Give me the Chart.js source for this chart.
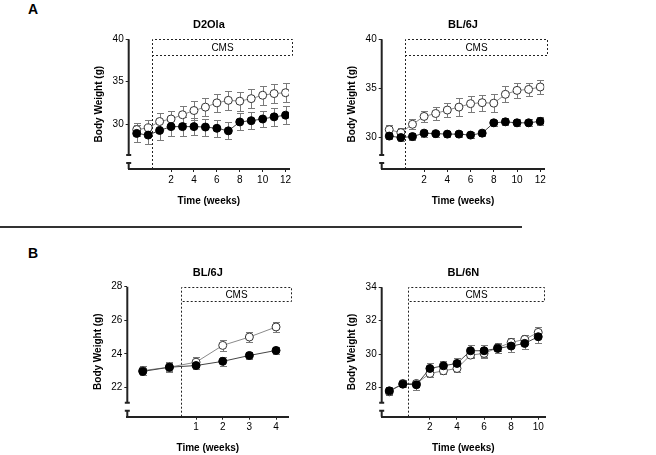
<!DOCTYPE html>
<html>
<head>
<meta charset="utf-8">
<script src="https://cdn.jsdelivr.net/npm/chart.js@4.4.0/dist/chart.umd.min.js"></script>
<style>
  body { margin: 0; background: #fff; }
  #wrap { position: relative; width: 656px; height: 455px; font-family: "Liberation Sans", Arial, sans-serif; }
  #wrap canvas { position: absolute; }
  .panel-label { position: absolute; font-weight: bold; font-size: 14px; line-height: 14px; color: #000; }
  .divider { position: absolute; left: 0; top: 226px; width: 522px; height: 2px; background: #333; }
</style>
</head>
<body>
<div id="wrap">
  <div class="panel-label" style="left:28px;top:2px">A</div>
  <div class="panel-label" style="left:28px;top:246px">B</div>
  <div class="divider"></div>
  <canvas id="chartA1" width="328" height="227" style="left:0;top:0"></canvas>
  <canvas id="chartA2" width="328" height="227" style="left:328px;top:0"></canvas>
  <canvas id="chartB1" width="328" height="226" style="left:0;top:229px"></canvas>
  <canvas id="chartB2" width="328" height="226" style="left:328px;top:229px"></canvas>
</div>
<script>
// x values (weeks)
const weeksA = [-1, 0, 1, 2, 3, 4, 5, 6, 7, 8, 9, 10, 11, 12];
const weeksB1 = [-1, 0, 1, 2, 3, 4];
const weeksB2 = [-1, 0, 1, 2, 3, 4, 5, 6, 7, 8, 9, 10];

// A - D2Ola
const d2olaControl = [29.35, 29.55, 30.3, 30.6, 31.1, 31.6, 32.0, 32.5, 32.8, 32.7, 33.0, 33.4, 33.6, 33.7];
const d2olaControlSem = [0.8, 0.9, 1.0, 1.0, 1.0, 1.1, 1.1, 1.1, 1.1, 1.1, 1.1, 1.1, 1.1, 1.1];
const d2olaCms = [28.9, 28.7, 29.25, 29.7, 29.7, 29.7, 29.65, 29.5, 29.2, 30.25, 30.4, 30.6, 30.85, 31.05];
const d2olaCmsSem = [1.0, 1.1, 1.1, 1.1, 1.1, 1.0, 1.0, 1.0, 1.0, 1.0, 1.0, 1.0, 1.1, 1.1];

// A - BL/6J
const bl6jAControl = [30.8, 30.5, 31.35, 32.15, 32.45, 32.8, 33.1, 33.45, 33.55, 33.5, 34.4, 34.8, 34.9, 35.15];
const bl6jAControlSem = [0.5, 0.45, 0.5, 0.6, 0.7, 0.7, 0.9, 0.8, 0.8, 0.9, 0.8, 0.8, 0.7, 0.7];
const bl6jACms = [30.15, 30.0, 30.1, 30.45, 30.4, 30.35, 30.35, 30.25, 30.45, 31.5, 31.6, 31.5, 31.5, 31.65];
const bl6jACmsSem = [0.3, 0.35, 0.35, 0.35, 0.3, 0.3, 0.3, 0.3, 0.3, 0.3, 0.35, 0.35, 0.35, 0.4];

// B - BL/6J
const bl6jBControl = [23.0, 23.2, 23.5, 24.5, 25.0, 25.6];
const bl6jBControlSem = [0.25, 0.3, 0.3, 0.35, 0.3, 0.3];
const bl6jBCms = [22.95, 23.2, 23.3, 23.55, 23.9, 24.2];
const bl6jBCmsSem = [0.2, 0.25, 0.2, 0.25, 0.2, 0.2];

// B - BL/6N
const bl6nControl = [27.74, 28.24, 28.24, 28.84, 29.0, 29.14, 29.94, 30.04, 30.38, 30.7, 30.88, 31.3];
const bl6nControlSem = [0.2, 0.2, 0.2, 0.2, 0.2, 0.2, 0.2, 0.25, 0.2, 0.25, 0.25, 0.3];
const bl6nCms = [27.8, 28.2, 28.16, 29.14, 29.3, 29.44, 30.2, 30.2, 30.34, 30.48, 30.64, 31.04];
const bl6nCmsSem = [0.2, 0.2, 0.3, 0.3, 0.3, 0.3, 0.35, 0.35, 0.3, 0.35, 0.35, 0.35];

// tick labels
const xTicksA = [2, 4, 6, 8, 10, 12];
const xTicksB1 = [1, 2, 3, 4];
const xTicksB2 = [2, 4, 6, 8, 10];
const yTicksA = [30, 35, 40];
const yTicksB1 = [22, 24, 26, 28];
const yTicksB2 = [28, 30, 32, 34];

Chart.defaults.font.family = '"Liberation Sans", Arial, sans-serif';
Chart.defaults.color = '#000';

function toPoints(xs, ys) {
  return xs.map((x, i) => ({ x: x, y: ys[i] }));
}

// mean +/- SEM bars, drawn under the lines
const errorBars = {
  id: 'errorBars',
  beforeDatasetsDraw(chart) {
    const ctx = chart.ctx;
    const yScale = chart.scales.y;
    chart.data.datasets.forEach((ds, i) => {
      const meta = chart.getDatasetMeta(i);
      ctx.save();
      ctx.strokeStyle = '#7a7a7a';
      ctx.lineWidth = 1;
      meta.data.forEach((pt, j) => {
        const v = ds.data[j].y;
        const e = ds.sem[j];
        const top = Math.round(yScale.getPixelForValue(v + e)) + 0.5;
        const bot = Math.round(yScale.getPixelForValue(v - e)) + 0.5;
        const x = Math.round(pt.x) + 0.5;
        ctx.beginPath();
        ctx.moveTo(x, top); ctx.lineTo(x, bot);
        ctx.moveTo(x - 3.5, top); ctx.lineTo(x + 3.5, top);
        ctx.moveTo(x - 3.5, bot); ctx.lineTo(x + 3.5, bot);
        ctx.stroke();
      });
      ctx.restore();
    });
  }
};

// dashed CMS box + start line
const cmsBox = {
  id: 'cmsBox',
  afterDraw(chart, args, opts) {
    const { ctx, chartArea } = chart;
    const xs = chart.scales.x, ys = chart.scales.y;
    const left = Math.round(xs.getPixelForValue(opts.start)) + 0.5;
    const right = Math.round(xs.getPixelForValue(opts.end)) + 0.5;
    const top = Math.round(ys.getPixelForValue(ys.max)) + 0.5;
    const bottom = Math.round(ys.getPixelForValue(opts.bottom)) + 0.5;
    ctx.save();
    ctx.strokeStyle = '#222';
    ctx.lineWidth = 1;
    ctx.setLineDash([2, 2]);
    ctx.beginPath();
    ctx.moveTo(left, chartArea.bottom);
    ctx.lineTo(left, top);
    ctx.lineTo(right, top);
    ctx.lineTo(right, bottom);
    ctx.lineTo(left, bottom);
    ctx.stroke();
    ctx.setLineDash([]);
    ctx.fillStyle = '#000';
    ctx.font = '10px "Liberation Sans", Arial, sans-serif';
    ctx.textAlign = 'center';
    ctx.textBaseline = 'middle';
    ctx.fillText('CMS', (left + right) / 2, (top + bottom) / 2 + 0.5);
    ctx.restore();
  }
};

// y axis with a break near the bottom (Prism style)
const brokenAxis = {
  id: 'brokenAxis',
  afterDraw(chart) {
    const { ctx, chartArea } = chart;
    const x = chartArea.left;
    const b = chartArea.bottom;
    ctx.save();
    ctx.strokeStyle = '#222';
    ctx.lineWidth = 2;
    ctx.beginPath();
    ctx.moveTo(x, chartArea.top); ctx.lineTo(x, b - 14);
    ctx.moveTo(x - 2.5, b - 14); ctx.lineTo(x + 2.5, b - 14);
    ctx.moveTo(x - 2.5, b - 6); ctx.lineTo(x + 2.5, b - 6);
    ctx.moveTo(x, b - 6); ctx.lineTo(x, b);
    ctx.stroke();
    ctx.restore();
  }
};

function buildPanel(id, p) {
  const canvas = document.getElementById(id);
  const W = canvas.width, H = canvas.height;
  const axisW = 40, axisH = 40;
  const titleLine = 11 * 1.2;

  return new Chart(canvas, {
    type: 'line',
    data: {
      datasets: [{
        label: 'CMS',
        data: toPoints(p.weeks, p.cms),
        sem: p.cmsSem,
        borderColor: '#444',
        borderWidth: 1,
        pointRadius: 4,
        pointBackgroundColor: '#000',
        pointBorderColor: '#000',
        pointBorderWidth: 1
      }, {
        label: 'Control',
        data: toPoints(p.weeks, p.control),
        sem: p.controlSem,
        borderColor: '#8a8a8a',
        borderWidth: 1,
        pointRadius: 4,
        pointBackgroundColor: '#fff',
        pointBorderColor: '#333',
        pointBorderWidth: 1
      }]
    },
    options: {
      responsive: false,
      animation: false,
      layout: {
        padding: {
          left: p.area.l - axisW,
          right: W - p.area.r,
          top: 0,
          bottom: H - p.area.b - axisH
        }
      },
      plugins: {
        legend: { display: false },
        tooltip: { enabled: false },
        title: {
          display: true,
          text: p.title,
          fullSize: false,
          color: '#000',
          font: { size: 11, weight: 'bold' },
          padding: { top: p.titleY - titleLine / 2, bottom: p.area.t - p.titleY - titleLine / 2 }
        },
        cmsBox: { start: p.cmsStart, end: p.cmsEnd, bottom: p.cmsBottom }
      },
      scales: {
        x: {
          type: 'linear',
          min: p.xMin,
          max: p.xMax,
          afterBuildTicks: s => { s.ticks = p.xTicks.map(v => ({ value: v })); },
          afterFit: s => { s.height = axisH; },
          grid: { display: true, drawOnChartArea: false, drawTicks: true, tickLength: 3, color: '#222' },
          border: { display: true, color: '#222', width: 2 },
          ticks: { padding: 2, autoSkip: false, maxRotation: 0, font: { size: 10 } },
          title: { display: true, text: 'Time (weeks)', font: { size: 10, weight: 'bold' }, padding: { top: 0, bottom: 2 } }
        },
        y: {
          min: p.yMin,
          max: p.yMax,
          afterBuildTicks: s => { s.ticks = p.yTicks.map(v => ({ value: v })); },
          afterFit: s => { s.width = axisW; },
          grid: { display: true, drawOnChartArea: false, drawTicks: true, tickLength: 3, color: '#222' },
          border: { display: false },
          ticks: { padding: 2, autoSkip: false, font: { size: 10 } },
          title: { display: true, text: 'Body Weight (g)', font: { size: 10, weight: 'bold' }, padding: { top: 4.5, bottom: 0 } }
        }
      }
    },
    plugins: [errorBars, cmsBox, brokenAxis]
  });
}

buildPanel('chartA1', {
  title: 'D2Ola', weeks: weeksA,
  control: d2olaControl, controlSem: d2olaControlSem, cms: d2olaCms, cmsSem: d2olaCmsSem,
  xMin: -1.7, xMax: 12.3, yMin: 24.7, yMax: 40, xTicks: xTicksA, yTicks: yTicksA,
  cmsStart: 0.37, cmsEnd: 12.58, cmsBottom: 38.15,
  area: { l: 128.7, t: 39.3, r: 289, b: 169 }, titleY: 25
});

buildPanel('chartA2', {
  title: 'BL/6J', weeks: weeksA,
  control: bl6jAControl, controlSem: bl6jAControlSem, cms: bl6jACms, cmsSem: bl6jACmsSem,
  xMin: -1.65, xMax: 12.35, yMin: 26.8, yMax: 40, xTicks: xTicksA, yTicks: yTicksA,
  cmsStart: 0.37, cmsEnd: 12.58, cmsBottom: 38.4,
  area: { l: 53.7, t: 39.3, r: 216.3, b: 169 }, titleY: 25
});

buildPanel('chartB1', {
  title: 'BL/6J', weeks: weeksB1,
  control: bl6jBControl, controlSem: bl6jBControlSem, cms: bl6jBCms, cmsSem: bl6jBCmsSem,
  xMin: -1.58, xMax: 4.46, yMin: 20.25, yMax: 28, xTicks: xTicksB1, yTicks: yTicksB1,
  cmsStart: 0.44, cmsEnd: 4.55, cmsBottom: 27.15,
  area: { l: 127.3, t: 57.7, r: 288.3, b: 187.7 }, titleY: 44.3
});

buildPanel('chartB2', {
  title: 'BL/6N', weeks: weeksB2,
  control: bl6nControl, controlSem: bl6nControlSem, cms: bl6nCms, cmsSem: bl6nCmsSem,
  xMin: -1.56, xMax: 10.5, yMin: 26.25, yMax: 34, xTicks: xTicksB2, yTicks: yTicksB2,
  cmsStart: 0.4, cmsEnd: 10.44, cmsBottom: 33.18,
  area: { l: 53.7, t: 58.3, r: 217, b: 187.7 }, titleY: 44.3
});
</script>
</body>
</html>
